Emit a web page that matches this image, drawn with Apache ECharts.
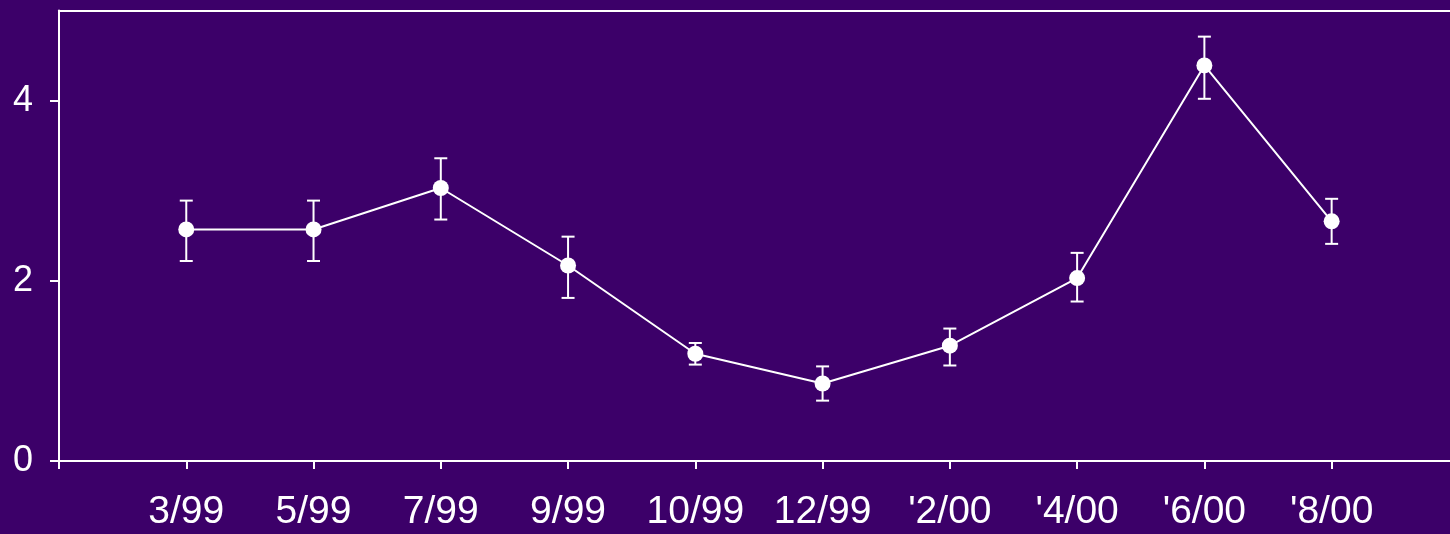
<!DOCTYPE html>
<html>
<head>
<meta charset="utf-8">
<script src="https://cdn.jsdelivr.net/npm/echarts@6/dist/echarts.min.js"></script>
<style>
html,body{margin:0;padding:0;background:#3C0069;overflow:hidden;}
#c{width:1450px;height:534px;}
</style>
</head>
<body>
<div id="c"></div>
<script>
const categories = ['3/99','5/99','7/99','9/99','10/99','12/99',"'2/00","'4/00","'6/00","'8/00"];
const means = [2.57, 2.57, 3.03, 2.17, 1.19, 0.86, 1.28, 2.03, 4.39, 2.66];
const upper = [2.89, 2.89, 3.36, 2.49, 1.31, 1.05, 1.47, 2.31, 4.71, 2.91];
const lower = [2.22, 2.22, 2.68, 1.81, 1.07, 0.67, 1.06, 1.77, 4.02, 2.41];
const yTicks = [0, 2, 4];

// category slots: 0 is the empty left edge, categories sit at 1..10
const xTicks = [0].concat(categories.map((c, i) => i + 1));
const lineData = means.map((v, i) => [i + 1, v]);
const errData = means.map((v, i) => [i + 1, lower[i], upper[i]]);

const chart = echarts.init(document.getElementById('c'), null, {renderer: 'canvas'});
const font = '"Liberation Sans", Arial, sans-serif';
chart.setOption({
  backgroundColor: '#3C0069',
  animation: false,
  grid: {left: 59, right: 0, top: 10.5, bottom: 73, containLabel: false},
  xAxis: [{
    type: 'value',
    min: 0, max: 10.93,
    axisLine: {lineStyle: {color: '#ffffff', width: 2}},
    axisTick: {show: true, length: 8, lineStyle: {color: '#ffffff', width: 2}, customValues: xTicks},
    axisLabel: {
      color: '#ffffff', fontSize: 39, fontFamily: font, margin: 32,
      customValues: xTicks.slice(1),
      formatter: function (v) { return categories[Math.round(v) - 1] || ''; }
    },
    splitLine: {show: false}
  }, {
    type: 'value',
    min: 0, max: 10.93,
    position: 'top',
    axisLine: {show: true, lineStyle: {color: '#ffffff', width: 2}},
    axisTick: {show: false},
    axisLabel: {show: false},
    splitLine: {show: false}
  }],
  yAxis: {
    type: 'value',
    min: 0, max: 5,
    axisLine: {show: true, lineStyle: {color: '#ffffff', width: 2}},
    axisTick: {show: true, length: 9, lineStyle: {color: '#ffffff', width: 2}, customValues: yTicks},
    axisLabel: {color: '#ffffff', fontSize: 36, fontFamily: font, margin: 26, customValues: yTicks},
    splitLine: {show: false}
  },
  series: [{
    type: 'line',
    data: lineData,
    symbol: 'circle',
    symbolSize: 16,
    lineStyle: {color: '#ffffff', width: 2},
    itemStyle: {color: '#ffffff'},
    z: 3
  }, {
    type: 'custom',
    data: errData,
    z: 2,
    renderItem: function (params, api) {
      const x = api.value(0);
      const lo = api.coord([x, api.value(1)]);
      const hi = api.coord([x, api.value(2)]);
      const hw = 6.5;
      const style = {stroke: '#ffffff', lineWidth: 2};
      return {
        type: 'group',
        children: [
          {type: 'line', shape: {x1: hi[0], y1: hi[1], x2: lo[0], y2: lo[1]}, style: style},
          {type: 'line', shape: {x1: hi[0] - hw, y1: hi[1], x2: hi[0] + hw, y2: hi[1]}, style: style},
          {type: 'line', shape: {x1: lo[0] - hw, y1: lo[1], x2: lo[0] + hw, y2: lo[1]}, style: style}
        ]
      };
    }
  }]
});
</script>
</body>
</html>
